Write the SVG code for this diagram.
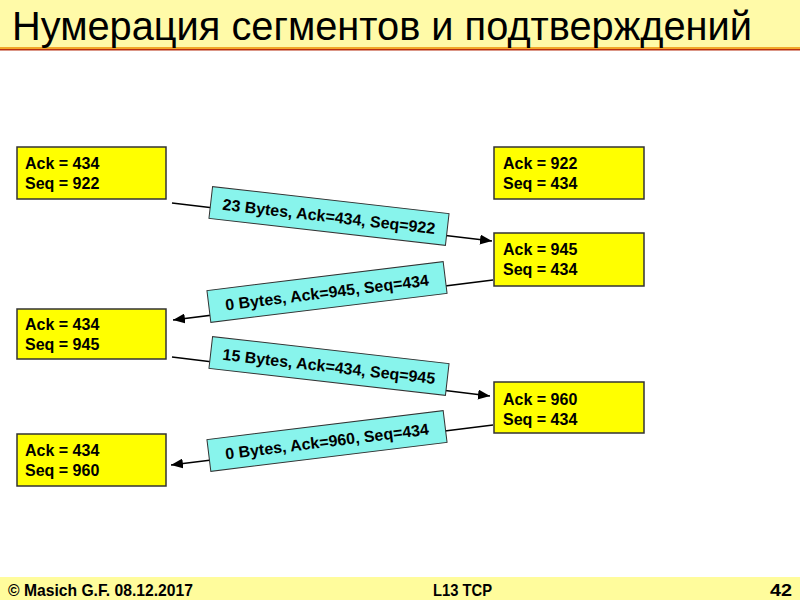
<svg xmlns="http://www.w3.org/2000/svg" width="800" height="600" viewBox="0 0 800 600">
  <defs>
    <marker id="arrow" viewBox="0 0 12 10" refX="12" refY="5" markerWidth="12" markerHeight="10" markerUnits="userSpaceOnUse" orient="auto">
      <path d="M0,0 L12,5 L0,10 Z" fill="#000"/>
    </marker>
    <style>
      .box { fill: #FFFF00; stroke: #333333; stroke-width: 1.5; }
      .boxtxt { font-family: "Liberation Sans", Arial, sans-serif; font-weight: bold; font-size: 16px; fill: #000; }
      .lbl { fill: #88F4EC; stroke: #333333; stroke-width: 1; }
      .lbltxt { font-family: "Liberation Sans", Arial, sans-serif; font-weight: bold; font-size: 16px; fill: #000; text-anchor: middle; }
      .conn { stroke: #000; stroke-width: 1.5; fill: none; marker-end: url(#arrow); }
      .foot { font-family: "Liberation Sans", Arial, sans-serif; font-weight: bold; font-size: 17px; fill: #000; }
    </style>
  </defs>
  <rect x="0" y="0" width="800" height="600" fill="#FFFFFF"/>
  <!-- title band -->
  <g id="title">
    <rect x="0" y="0" width="800" height="47" fill="#FFFAA8"/>
    <rect x="0" y="47" width="800" height="2" fill="#F2A72A"/>
    <rect x="0" y="49" width="800" height="1.5" fill="#B83010"/>
    <text x="12" y="40" font-family="'Liberation Sans', Arial, sans-serif" font-size="40" fill="#000" textLength="740" lengthAdjust="spacingAndGlyphs">Нумерация сегментов и подтверждений</text>
  </g>

  <!-- connectors -->
  <g id="connectors">
    <line class="conn" x1="172" y1="203" x2="492" y2="241"/>
    <line class="conn" x1="493" y1="280" x2="173" y2="320"/>
    <line class="conn" x1="172" y1="357" x2="490" y2="396"/>
    <line class="conn" x1="493" y1="425" x2="171" y2="465"/>
    <g transform="translate(329,216) rotate(6.5)">
      <rect class="lbl" x="-119" y="-16" width="238" height="32"/>
      <text class="lbltxt" x="0" y="6">23 Bytes, Ack=434, Seq=922</text>
    </g>
    <g transform="translate(327,292) rotate(-7)">
      <rect class="lbl" x="-119" y="-16" width="238" height="32"/>
      <text class="lbltxt" x="0" y="6">0 Bytes, Ack=945, Seq=434</text>
    </g>
    <g transform="translate(329,366) rotate(6.5)">
      <rect class="lbl" x="-119" y="-16" width="238" height="32"/>
      <text class="lbltxt" x="0" y="6">15 Bytes, Ack=434, Seq=945</text>
    </g>
    <g transform="translate(327,441) rotate(-7)">
      <rect class="lbl" x="-119" y="-16" width="238" height="32"/>
      <text class="lbltxt" x="0" y="6">0 Bytes, Ack=960, Seq=434</text>
    </g>
  </g>

  <!-- nodes -->
  <g id="left1">
    <rect class="box" x="17" y="147" width="149" height="52"/>
    <text class="boxtxt" x="25" y="169">Ack = 434</text>
    <text class="boxtxt" x="25" y="189">Seq = 922</text>
  </g>
  <g id="right1">
    <rect class="box" x="494" y="147" width="150" height="52"/>
    <text class="boxtxt" x="503" y="169">Ack = 922</text>
    <text class="boxtxt" x="503" y="189">Seq = 434</text>
  </g>
  <g id="right2">
    <rect class="box" x="494" y="233" width="150" height="53"/>
    <text class="boxtxt" x="503" y="255">Ack = 945</text>
    <text class="boxtxt" x="503" y="275">Seq = 434</text>
  </g>
  <g id="left2">
    <rect class="box" x="17" y="309" width="149" height="50"/>
    <text class="boxtxt" x="25" y="330">Ack = 434</text>
    <text class="boxtxt" x="25" y="350">Seq = 945</text>
  </g>
  <g id="right3">
    <rect class="box" x="494" y="382" width="150" height="51"/>
    <text class="boxtxt" x="503" y="405">Ack = 960</text>
    <text class="boxtxt" x="503" y="425">Seq = 434</text>
  </g>
  <g id="left3">
    <rect class="box" x="17" y="434" width="149" height="52"/>
    <text class="boxtxt" x="25" y="456">Ack = 434</text>
    <text class="boxtxt" x="25" y="476">Seq = 960</text>
  </g>

  <!-- footer -->
  <g id="footer">
    <rect x="0" y="577" width="800" height="23" fill="#FFFC9C"/>
    <text class="foot" x="8" y="596" textLength="185" lengthAdjust="spacingAndGlyphs">© Masich G.F. 08.12.2017</text>
    <text class="foot" x="433" y="596" textLength="59" lengthAdjust="spacingAndGlyphs">L13 TCP</text>
    <text class="foot" x="770" y="596" textLength="22" lengthAdjust="spacingAndGlyphs">42</text>
  </g>
</svg>
